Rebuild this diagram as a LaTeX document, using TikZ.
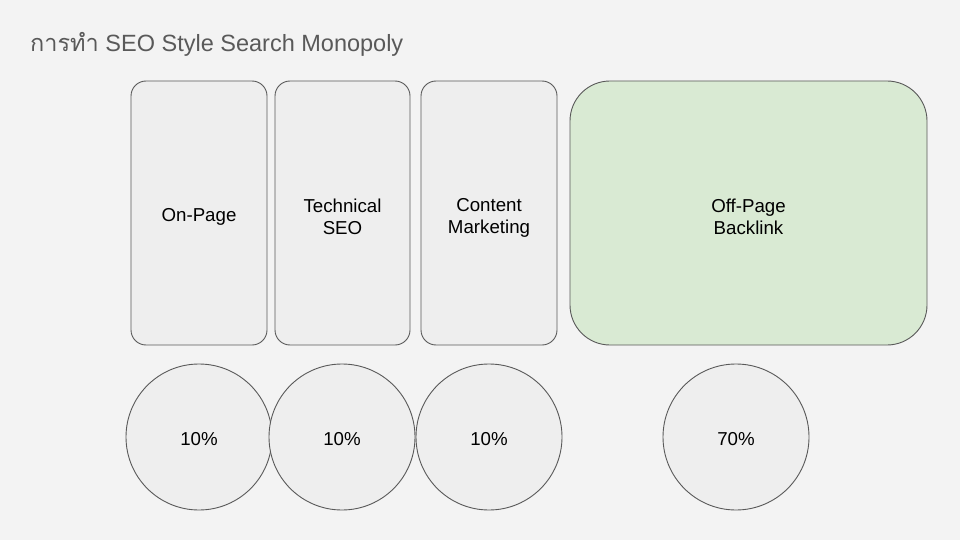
\documentclass[tikz,border=0pt]{standalone}
\usepackage{fontspec}
\setmainfont{Liberation Sans}
\newfontfamily\thaifont[Script=Thai]{Loma}
\usetikzlibrary{positioning}
\definecolor{bggray}{HTML}{F3F3F3}
\definecolor{boxfill}{HTML}{EEEEEE}
\definecolor{boxline}{HTML}{595959}
\definecolor{greenfill}{HTML}{D9EAD3}
\definecolor{titlegray}{HTML}{595959}
\newcommand{\topstrut}[1]{\rule{0pt}{#1}}
\newcommand{\botstrut}{\rule[-3.3pt]{0pt}{0pt}}

\begin{document}
\begin{tikzpicture}[x=1pt,y=-1pt,
		col/.style={draw=boxline,fill=boxfill,line width=0.9pt,rounded corners=15pt,
			minimum width=136pt,minimum height=264pt,inner sep=0pt,align=center,
			font=\fontsize{18.7}{22}\selectfont,
			execute at begin node=\topstrut{20.7pt},execute at end node=\botstrut},
		share/.style={draw=boxline,fill=boxfill,line width=0.9pt,circle,
			minimum size=146pt,inner sep=0pt,font=\fontsize{18.7}{22}\selectfont,
			execute at begin node=\topstrut{20.7pt}\botstrut}]
				% Folie: 960 x 540
				\fill[bggray] (0,0) rectangle (960,540);
				\useasboundingbox (0,0) rectangle (960,540);
				\node[anchor=base west,text=titlegray,font=\fontsize{23.5}{28}\selectfont,inner sep=0pt]
					(title) at (30,52) {{\thaifont การทำ} SEO Style Search Monopoly};
				\node[col] (onpage) at (199,213) {On-Page};
				\node[col,minimum width=135pt] (tech) at (342.5,213) {\topstrut{23.7pt}Technical\\SEO};
				\node[col] (content) at (489,213) {\topstrut{23.7pt}Content\\Marketing};
				\node[col,fill=greenfill,minimum width=357pt,rounded corners=40pt] (offpage) at (748.5,213) {\topstrut{23.7pt}Off-Page\\Backlink};
				\node[share] (p1) at (199,437) {10\%};
				\node[share] (p2) at (342,437) {10\%};
				\node[share] (p3) at (489,437) {10\%};
				\node[share] (p4) at (736,437) {70\%};
			\end{tikzpicture}
\end{document}
